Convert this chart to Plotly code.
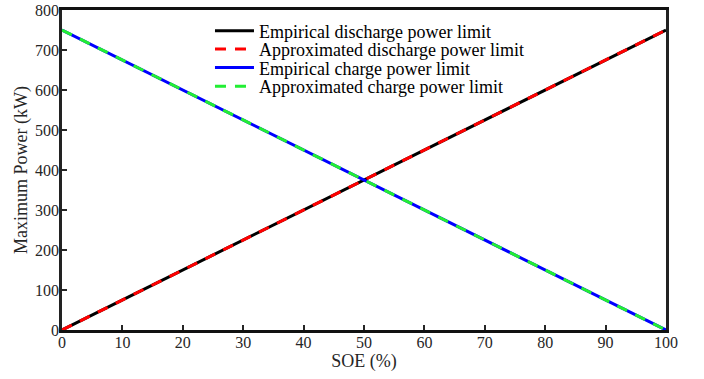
import plotly.graph_objects as go

soe = [0, 10, 20, 30, 40, 50, 60, 70, 80, 90, 100]
emp_discharge = [0, 75, 150, 225, 300, 375, 450, 525, 600, 675, 750]
approx_discharge = [0, 75, 150, 225, 300, 375, 450, 525, 600, 675, 750]
emp_charge = [750, 675, 600, 525, 450, 375, 300, 225, 150, 75, 0]
approx_charge = [750, 675, 600, 525, 450, 375, 300, 225, 150, 75, 0]

font = "Liberation Serif"
dash = "11px,9px"

fig = go.Figure()
fig.add_trace(go.Scatter(x=soe, y=emp_discharge, mode="lines", name="Empirical discharge power limit",
                         line=dict(color="black", width=3), legend="legend"))
fig.add_trace(go.Scatter(x=soe, y=emp_charge, mode="lines", name="Empirical charge power limit",
                         line=dict(color="blue", width=3), legend="legend3"))
fig.add_trace(go.Scatter(x=soe, y=approx_discharge, mode="lines", name="Approximated discharge power limit",
                         line=dict(color="red", width=3, dash=dash), legend="legend2"))
fig.add_trace(go.Scatter(x=soe, y=approx_charge, mode="lines", name="Approximated charge power limit",
                         line=dict(color="#22ee33", width=3, dash=dash), legend="legend4"))

def leg(y):
    return dict(x=0.245, y=y, xanchor="left", yanchor="middle", bgcolor="rgba(0,0,0,0)",
                font=dict(family=font, size=18, color="black"), itemwidth=39)

tickfont = dict(family=font, size=16, color="#262626")

fig.update_layout(
    width=704, height=379,
    margin=dict(l=62, r=38, t=10, b=49),
    plot_bgcolor="white", paper_bgcolor="white",
    font=dict(family=font, size=16, color="#262626"),
    showlegend=True,
    legend=leg(0.934), legend2=leg(0.877), legend3=leg(0.819), legend4=leg(0.761),
    xaxis=dict(range=[0, 100], tickvals=list(range(0, 101, 10)), ticks="inside", ticklen=5, tickwidth=2,
               tickcolor="#262626", showline=True, linecolor="#111111", linewidth=2.5, mirror=True,
               showgrid=False, zeroline=False, automargin=False, tickfont=tickfont,
               ticklabelstandoff=-4,
               title=dict(text="SOE (%)", font=dict(family=font, size=18), standoff=2)),
    yaxis=dict(range=[0, 800], tickvals=list(range(0, 801, 100)), ticks="inside", ticklen=5, tickwidth=2,
               tickcolor="#262626", showline=True, linecolor="#222222", linewidth=2.5, mirror=True,
               showgrid=False, zeroline=False, automargin=False, tickfont=tickfont,
               ticklabelstandoff=-3,
               title=dict(text="Maximum Power (kW)", font=dict(family=font, size=18), standoff=3)),
)
fig.write_html("out.html", config={"displayModeBar": False},
               post_script="document.body.style.margin='0';")
